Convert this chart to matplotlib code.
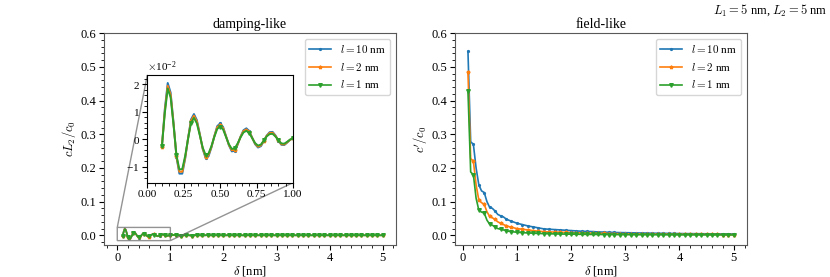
import numpy as np
import matplotlib
matplotlib.use("Agg")
import matplotlib.pyplot as plt
from matplotlib.ticker import AutoMinorLocator, ScalarFormatter

plt.rcParams['font.family'] = ['Liberation Serif', 'DejaVu Serif']
plt.rcParams['mathtext.fontset'] = 'cm'
plt.rcParams['axes.unicode_minus'] = True

labels = [r"$l = 10$ nm", r"$l = 2$ nm", r"$l = 1$ nm"]
colors = ["#1f77b4", "#ff7f0e", "#2ca02c"]
markers = [".", "*", "v"]

# x grids (nm)
delta_fine_left = np.round(np.arange(0.10, 1.0001, 0.02), 2)   # 46 points
delta_fine_right = np.round(np.arange(0.10, 1.0001, 0.05), 2)  # 19 points
delta_coarse = np.round(np.arange(1.1, 5.0001, 0.1), 1)        # 40 points

# damping-like, values in units of 1e-2
dl_l10 = [-0.28, 1.10, 2.05, 1.70, 0.60, -0.65, -1.25, -1.25, -0.70, 0.05,
          0.72, 0.92, 0.70, 0.20, -0.35, -0.68, -0.62, -0.30, 0.12, 0.48,
          0.58, 0.45, 0.12, -0.22, -0.44, -0.42, -0.20, 0.10, 0.33, 0.40,
          0.30, 0.06, -0.18, -0.30, -0.25, -0.06, 0.14, 0.26, 0.27, 0.14,
          -0.05, -0.20, -0.21, -0.12, -0.02, 0.04]
dl_l2 = [-0.27, 1.02, 1.95, 1.62, 0.56, -0.62, -1.18, -1.18, -0.66, 0.04,
         0.67, 0.86, 0.65, 0.18, -0.33, -0.63, -0.57, -0.28, 0.11, 0.44,
         0.53, 0.41, 0.11, -0.20, -0.40, -0.38, -0.18, 0.09, 0.30, 0.36,
         0.27, 0.05, -0.16, -0.27, -0.22, -0.05, 0.13, 0.23, 0.24, 0.12,
         -0.04, -0.18, -0.19, -0.11, -0.02, 0.04]
dl_l1 = [-0.26, 0.95, 1.85, 1.52, 0.52, -0.58, -1.10, -1.08, -0.60, 0.03,
         0.60, 0.78, 0.58, 0.15, -0.30, -0.57, -0.52, -0.25, 0.09, 0.38,
         0.46, 0.36, 0.09, -0.18, -0.35, -0.33, -0.15, 0.07, 0.25, 0.31,
         0.23, 0.04, -0.14, -0.23, -0.19, -0.04, 0.11, 0.19, 0.20, 0.10,
         -0.03, -0.15, -0.16, -0.09, -0.01, 0.04]
dl_tail = [0.10, -0.08, 0.06, -0.06, 0.05, -0.04, 0.04, -0.03, 0.03, -0.03,
           0.02, -0.02, 0.02, -0.02, 0.02, -0.01, 0.01, -0.01, 0.01, -0.01,
           0.01, -0.01, 0.01, -0.01, 0.01, 0.00, 0.00, 0.00, 0.00, 0.00,
           0.00, 0.00, 0.00, 0.00, 0.00, 0.00, 0.00, 0.00, 0.00, 0.00]

# field-like
fl_l10 = [0.546, 0.278, 0.270, 0.200, 0.150, 0.132, 0.127, 0.100, 0.083, 0.080,
          0.072, 0.062, 0.058, 0.055, 0.049, 0.045, 0.042, 0.039, 0.036]
fl_l10_tail = [0.032, 0.028, 0.025, 0.022, 0.019, 0.018, 0.017, 0.016, 0.015, 0.014,
               0.013, 0.012, 0.0115, 0.011, 0.010, 0.0095, 0.009, 0.0085, 0.008, 0.0078,
               0.0074, 0.007, 0.0068, 0.0065, 0.0062, 0.006, 0.0058, 0.0056, 0.0054, 0.0052,
               0.005, 0.0049, 0.0048, 0.0046, 0.0045, 0.0044, 0.0043, 0.0042, 0.0041, 0.004]
fl_l2 = [0.484, 0.228, 0.220, 0.150, 0.105, 0.097, 0.092, 0.070, 0.056, 0.052,
         0.047, 0.040, 0.036, 0.032, 0.029, 0.026, 0.024, 0.022, 0.020]
fl_l2_tail = [0.018, 0.016, 0.014, 0.012, 0.011, 0.010, 0.0095, 0.009, 0.0085, 0.008,
              0.0075, 0.007, 0.0066, 0.0062, 0.0058, 0.0055, 0.0052, 0.005, 0.0047, 0.0045,
              0.0043, 0.0041, 0.0039, 0.0037, 0.0036, 0.0034, 0.0033, 0.0032, 0.0031, 0.003,
              0.0029, 0.0028, 0.0027, 0.0026, 0.0025, 0.0024, 0.0024, 0.0023, 0.0022, 0.0022]
fl_l1 = [0.428, 0.188, 0.180, 0.110, 0.075, 0.069, 0.066, 0.045, 0.033, 0.030,
         0.025, 0.020, 0.018, 0.016, 0.014, 0.012, 0.011, 0.010, 0.009]
fl_l1_tail = [0.008, 0.007, 0.0062, 0.0055, 0.005, 0.0045, 0.0041, 0.0038, 0.0035, 0.0033,
              0.0031, 0.0029, 0.0027, 0.0025, 0.0024, 0.0023, 0.0022, 0.0021, 0.002, 0.0019,
              0.0018, 0.0017, 0.0017, 0.0016, 0.0016, 0.0015, 0.0015, 0.0014, 0.0014, 0.0013,
              0.0013, 0.0013, 0.0012, 0.0012, 0.0012, 0.0011, 0.0011, 0.0011, 0.001, 0.001]

fig = plt.figure(figsize=(8.3, 2.77), dpi=100)
ax1 = fig.add_axes([0.1253, 0.1165, 0.3518, 0.7633])
ax2 = fig.add_axes([0.5478, 0.1165, 0.3522, 0.7633])

x_left = np.concatenate([delta_fine_left, delta_coarse])
x_right = np.concatenate([delta_fine_right, delta_coarse])
mk_left = np.where(np.isclose(x_left * 10, np.round(x_left * 10)))[0]
mk_right = np.where(np.isclose(x_right * 10, np.round(x_right * 10)))[0]

dl_series = [dl_l10, dl_l2, dl_l1]
fl_series = [(fl_l10, fl_l10_tail), (fl_l2, fl_l2_tail), (fl_l1, fl_l1_tail)]

kw = dict(lw=1.2, ms=2.6)

for d, lab, c, m in zip(dl_series, labels, colors, markers):
    y = np.concatenate([np.array(d), np.array(dl_tail)]) * 1e-2
    ax1.plot(x_left, y, color=c, marker=m, markevery=list(mk_left), label=lab, **kw)

for (f, t), lab, c, m in zip(fl_series, labels, colors, markers):
    y = np.concatenate([np.array(f), np.array(t)])
    ax2.plot(x_right, y, color=c, marker=m, markevery=list(mk_right), label=lab, **kw)

# inset
axins = fig.add_axes([0.1775, 0.3404, 0.1755, 0.3888])
mk_in = np.where(np.isclose(delta_fine_left * 10, np.round(delta_fine_left * 10)))[0]
for d, lab, c, m in zip(dl_series, labels, colors, markers):
    y = np.array(d) * 1e-2
    axins.plot(delta_fine_left, y, color=c, marker=m, markevery=list(mk_in), lw=1.4, ms=2.6)
axins.set_xlim(0, 1)
axins.set_ylim(-0.0158, 0.0234)
axins.set_xticks([0, 0.25, 0.5, 0.75, 1.0])
fmt = ScalarFormatter(useMathText=True)
fmt.set_powerlimits((-1, 1))
axins.yaxis.set_major_formatter(fmt)
axins.set_yticks([-0.01, 0, 0.01, 0.02])
axins.tick_params(labelsize=8, pad=2)
axins.yaxis.get_offset_text().set_fontsize(8)
axins.xaxis.set_minor_locator(AutoMinorLocator())
axins.yaxis.set_minor_locator(AutoMinorLocator())
ax1.indicate_inset_zoom(axins, edgecolor="0.4", alpha=0.7, lw=1.0)

for ax, title, ylab in [(ax1, "damping-like", r"$cL_2/c_0$"), (ax2, "field-like", r"$c'/c_0$")]:
    ax.set_title(title, fontsize=10, pad=4)
    ax.set_ylabel(ylab, fontsize=9, labelpad=2)
    ax.set_xlabel(r"$\delta$ [nm]", fontsize=9, labelpad=-0.5)
    ax.set_ylim(-0.028, 0.6)
    ax.set_xticks([0, 1, 2, 3, 4, 5])
    ax.set_yticks([0.0, 0.1, 0.2, 0.3, 0.4, 0.5, 0.6])
    ax.xaxis.set_minor_locator(AutoMinorLocator())
    ax.yaxis.set_minor_locator(AutoMinorLocator())
    ax.tick_params(labelsize=9, pad=2)
    ax.legend(loc="upper right", fontsize=8)
    for s in ax.spines.values():
        s.set_color("0.35")

ax1.set_xlim(-0.25, 5.25)
ax2.set_xlim(-0.145, 5.245)

fig.text(0.997, 0.99, r"$L_1 = 5$ nm, $L_2 = 5$ nm", ha="right", va="top", fontsize=9)

fig.savefig("out.png", dpi=100)
